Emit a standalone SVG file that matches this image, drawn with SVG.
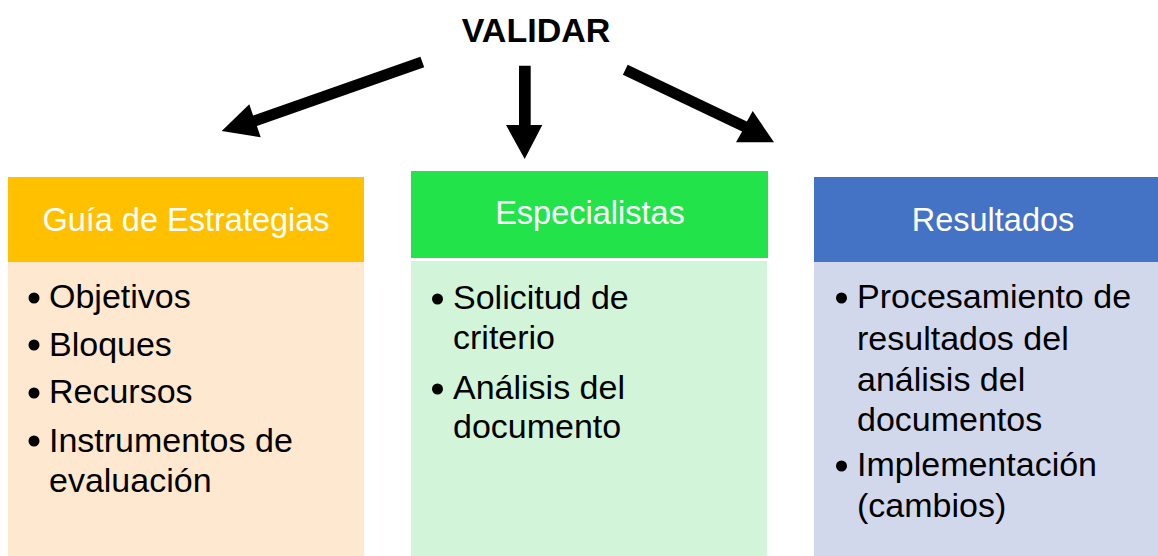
<svg xmlns="http://www.w3.org/2000/svg" width="1158" height="556" viewBox="0 0 1158 556">
<style>
.title{font-family:"Liberation Sans",Arial,sans-serif;font-weight:bold;font-size:34px;fill:#000;text-anchor:middle}
.hdr{font-family:"Liberation Sans",Arial,sans-serif;font-size:32.5px;fill:#fff;text-anchor:middle}
.body{font-family:"Liberation Sans",Arial,sans-serif;font-size:34px;fill:#000}
.arrow{fill:#000}
.dot{fill:#000}
</style>
<rect width="1158" height="556" fill="#fff"/>
<g id="title"><text class="title" x="536" y="42">VALIDAR</text></g>
<g id="connectors">
<polygon class="arrow" points="420.4,56.7 424.2,67.3 256.9,126.1 260.7,137.3 221.7,131 249.3,104.3 253.1,115.5"/>
<polygon class="arrow" points="519,65.7 530.7,65.7 530.7,125 542.3,125 524.7,159 506,125 519,125"/>
<polygon class="arrow" points="627.7,64.7 746.9,121.5 752.7,111 774,142.3 736,142.3 742.1,131.5 622.9,74.7"/>
</g>
<g id="guia">
<rect x="8" y="177" width="356" height="85" fill="#FFC000"/>
<rect x="8" y="262" width="356" height="294" fill="#FEE8CF"/>
<text class="hdr" x="186" y="231">Guía de Estrategias</text>
<circle class="dot" cx="34" cy="298" r="5.5"/>
<circle class="dot" cx="34" cy="345" r="5.5"/>
<circle class="dot" cx="34" cy="393" r="5.5"/>
<circle class="dot" cx="34" cy="441" r="5.5"/>
<text class="body" x="49" y="308">Objetivos</text>
<text class="body" x="49" y="356">Bloques</text>
<text class="body" x="49" y="403">Recursos</text>
<text class="body" x="49" y="452">Instrumentos de</text>
<text class="body" x="49" y="492">evaluación</text>
</g>
<g id="especialistas">
<rect x="411" y="171" width="357" height="87" fill="#23E34B"/>
<rect x="411" y="261" width="356" height="295" fill="#D2F5D9"/>
<text class="hdr" x="590" y="224">Especialistas</text>
<circle class="dot" cx="437.5" cy="299" r="5.5"/>
<circle class="dot" cx="437.5" cy="389" r="5.5"/>
<text class="body" x="453" y="309">Solicitud de</text>
<text class="body" x="453" y="349">criterio</text>
<text class="body" x="453" y="399">Análisis del</text>
<text class="body" x="453" y="438">documento</text>
</g>
<g id="resultados">
<rect x="814" y="177" width="344" height="85" fill="#4472C4"/>
<rect x="814" y="262" width="344" height="294" fill="#D2D8EC"/>
<text class="hdr" x="993" y="231">Resultados</text>
<circle class="dot" cx="841.5" cy="298" r="5.5"/>
<circle class="dot" cx="841.5" cy="466" r="5.5"/>
<text class="body" x="857" y="308">Procesamiento de</text>
<text class="body" x="857" y="350">resultados del</text>
<text class="body" x="857" y="391">análisis del</text>
<text class="body" x="857" y="431">documentos</text>
<text class="body" x="857" y="476">Implementación</text>
<text class="body" x="857" y="517">(cambios)</text>
</g>
</svg>
